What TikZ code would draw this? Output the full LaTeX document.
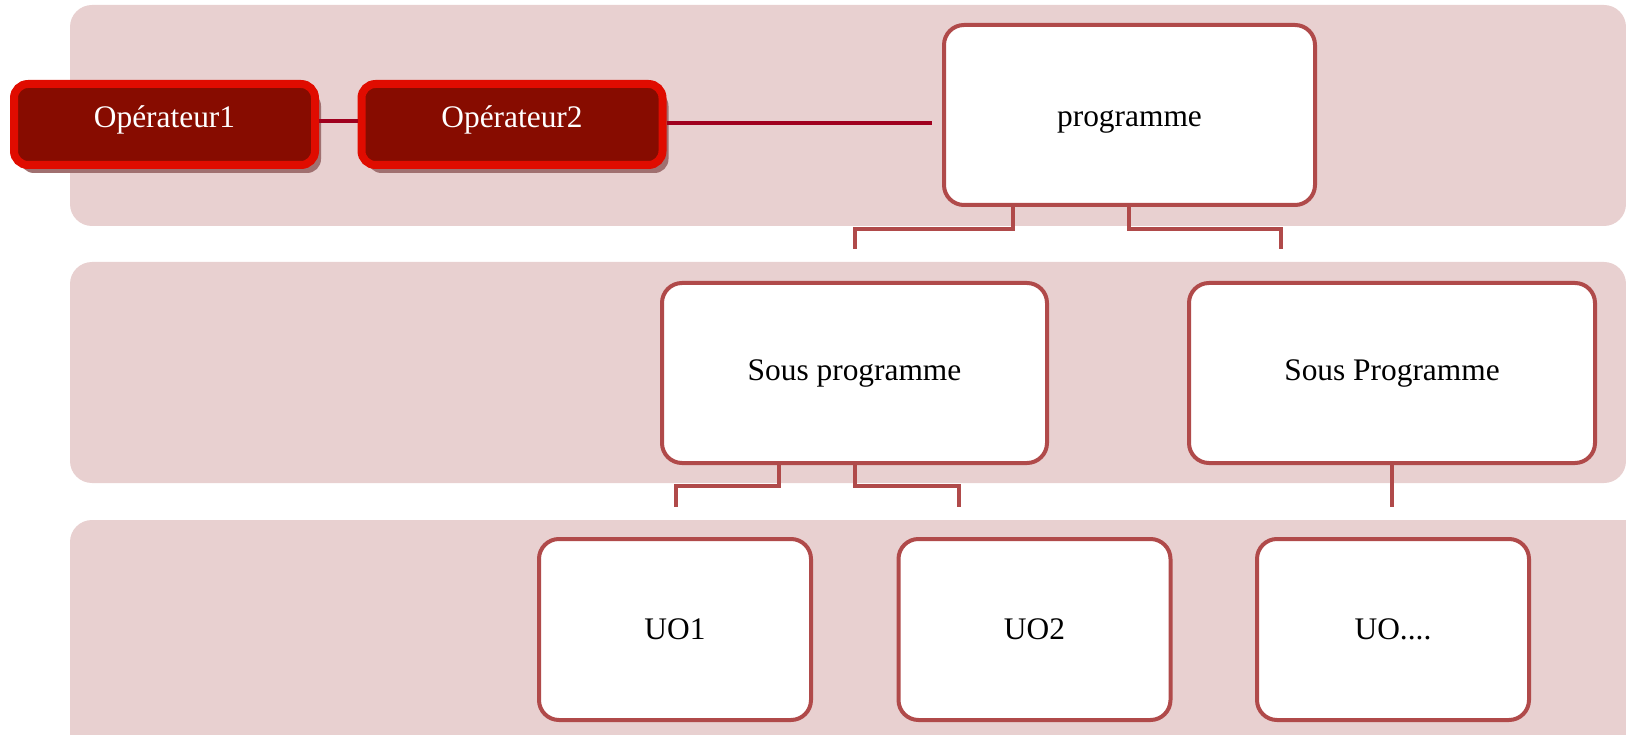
\documentclass[tikz,border=0pt]{standalone}
\usepackage{fontspec}
\setmainfont{Liberation Serif}
\usetikzlibrary{shadows}
\definecolor{bandfill}{RGB}{232,208,208}
\definecolor{boxline}{RGB}{176,74,74}
\definecolor{opfill}{RGB}{135,12,0}
\definecolor{opline}{RGB}{224,12,0}
\definecolor{oplink}{RGB}{160,0,30}
\definecolor{opshadow}{RGB}{160,112,112}
\tikzset{
  band/.style={fill=bandfill, draw=none, rounded corners=22pt},
  unitbox/.style={draw=boxline, line width=4pt, fill=white, rounded corners=20pt,
    font=\fontsize{31.4}{37}\selectfont, text=black, inner sep=0pt},
  opbox/.style={draw=opline, line width=8pt, fill=opfill, rounded corners=14pt,
    minimum width=301pt, minimum height=81pt, inner sep=0pt,
    text height=7pt, text depth=0pt,
    font=\fontsize{31.4}{37}\selectfont, text=white,
    drop shadow={shadow xshift=6pt, shadow yshift=-8pt, fill=opshadow, opacity=1}},
  link/.style={draw=boxline, line width=4pt, line join=miter},
  oplinkline/.style={draw=oplink, line width=4pt}
}
\begin{document}
\begin{tikzpicture}[x=1pt,y=-1pt]
\useasboundingbox (0,0) rectangle (1626,735);
\clip (0,0) rectangle (1626,735);

% three horizontal bands
\fill[band] (70,5) rectangle (1626,226);
\fill[band] (70,262) rectangle (1626,483);
\fill[band] (70,520) rectangle (1650,770);

% operators
\node[opbox] (op1) at (164.5,124.5) {Opérateur1};
\node[opbox] (op2) at (512,124.5) {Opérateur2};

% hierarchy boxes
\node[unitbox, minimum width=371pt, minimum height=180pt,
      text height=24pt, text depth=0pt] (prog) at (1129.5,115) {programme};
\node[unitbox, minimum width=385pt, minimum height=180pt] (sub1) at (854.5,373) {Sous programme};
\node[unitbox, minimum width=406pt, minimum height=180pt] (sub2) at (1392,373) {Sous Programme};
\node[unitbox, minimum width=272pt, minimum height=181pt] (uo1) at (675,629.5) {UO1};
\node[unitbox, minimum width=272pt, minimum height=181pt] (uo2) at (1034.5,629.5) {UO2};
\node[unitbox, minimum width=272pt, minimum height=181pt] (uo3) at (1393,629.5) {UO....};

% free ends of the connectors
\coordinate (progin) at (932,123);
\coordinate (pa) at (855,249);
\coordinate (pb) at (1281,249);
\coordinate (sa) at (676,507);
\coordinate (sb) at (959,507);
\coordinate (sc) at (1392,507);

% operator links
\draw[oplinkline] ([yshift=3.5pt]op1.east) -- ([yshift=3.5pt]op2.west);
\draw[oplinkline] (op2.east |- progin) -- (progin);

% brackets below programme
\draw[link] (prog.south -| 1013,0) -- (1013,229) -| (pa);
\draw[link] (prog.south -| 1129,0) -- (1129,229) -| (pb);

% brackets below the sub-programmes
\draw[link] (sub1.south -| 779,0) -- (779,486) -| (sa);
\draw[link] (sub1.south -| 855,0) -- (855,486) -| (sb);
\draw[link] (sub2.south) -- (sc);
\end{tikzpicture}
\end{document}
